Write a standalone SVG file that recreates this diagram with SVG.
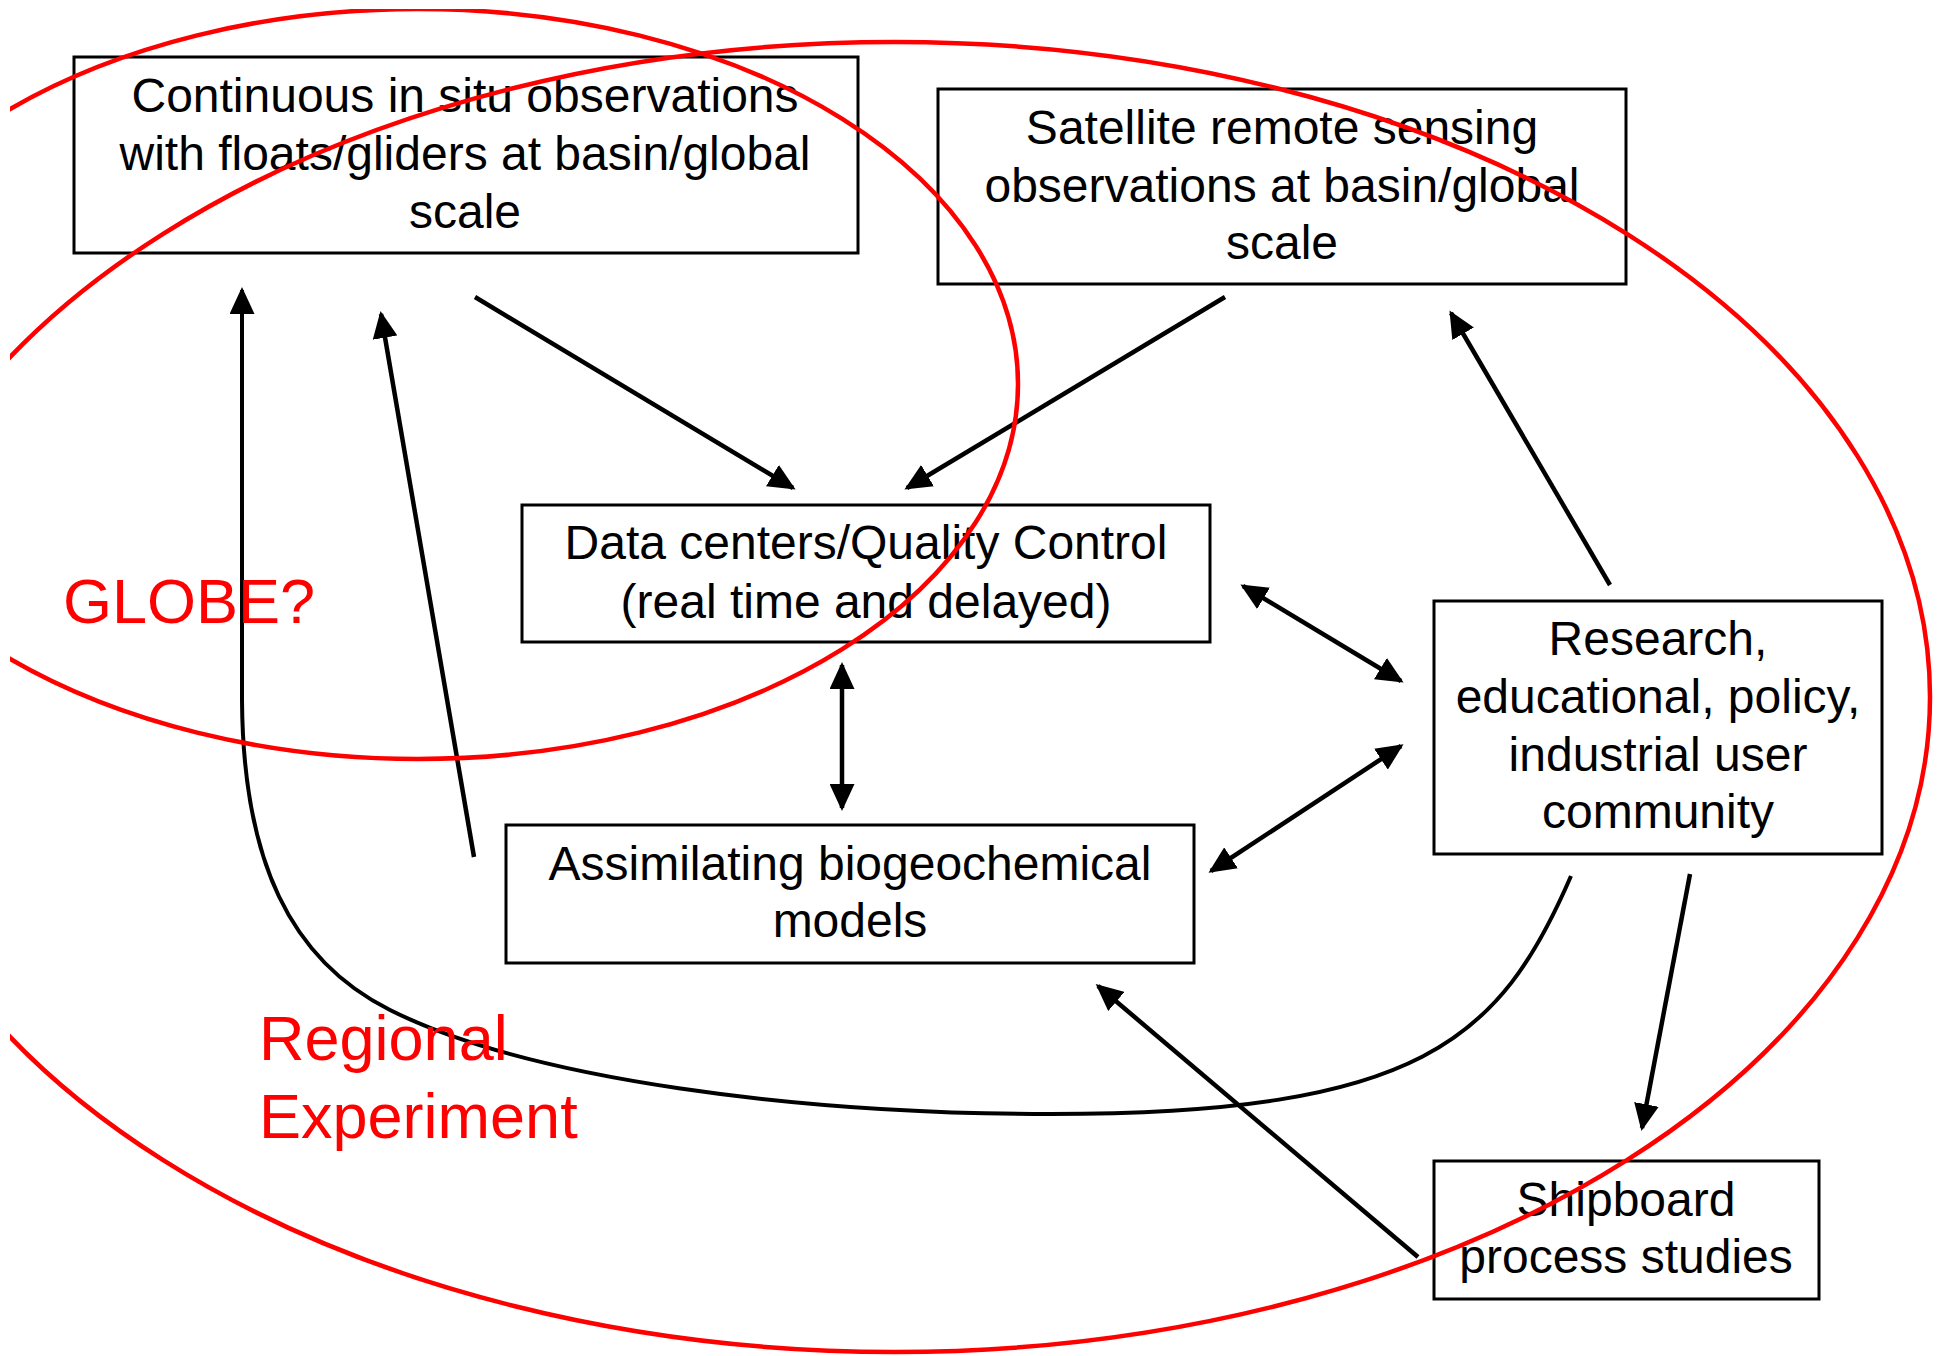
<svg xmlns="http://www.w3.org/2000/svg" width="1937" height="1356" viewBox="0 0 1937 1356">
  <style>
    .box { fill: none; stroke: #000; stroke-width: 3; }
    .lbl { font-family: "Liberation Sans", Arial, sans-serif; font-size: 48px; fill: #000; text-anchor: middle; }
    .conn { fill: none; stroke: #000; stroke-width: 4.5; }
    .ring { fill: none; stroke: #ff0000; stroke-width: 4.5; }
    .note { font-family: "Liberation Sans", Arial, sans-serif; font-size: 63px; fill: #ff0000; }
  </style>
  <defs>
    <marker id="ah" markerUnits="userSpaceOnUse" markerWidth="27" markerHeight="25" viewBox="0 0 27 25" refX="24" refY="12.5" orient="auto-start-reverse">
      <path d="M0,0 L27,12.5 L0,25 z" fill="#000"/>
    </marker>
    <clipPath id="frame">
      <rect x="10" y="9" width="1927" height="1347"/>
    </clipPath>
  </defs>
  <rect x="0" y="0" width="1937" height="1356" fill="#fff"/>

  <g id="node-insitu">
    <rect class="box" x="74" y="57" width="784" height="196"/>
    <text class="lbl" x="465" y="112">Continuous in situ observations</text>
    <text class="lbl" x="465" y="170">with floats/gliders at basin/global</text>
    <text class="lbl" x="465" y="228">scale</text>
  </g>
  <g id="node-satellite">
    <rect class="box" x="938" y="89" width="688" height="195"/>
    <text class="lbl" x="1282" y="144">Satellite remote sensing</text>
    <text class="lbl" x="1282" y="202">observations at basin/global</text>
    <text class="lbl" x="1282" y="259">scale</text>
  </g>
  <g id="node-datacenters">
    <rect class="box" x="522" y="505" width="688" height="137"/>
    <text class="lbl" x="866" y="559">Data centers/Quality Control</text>
    <text class="lbl" x="866" y="618">(real time and delayed)</text>
  </g>
  <g id="node-models">
    <rect class="box" x="506" y="825" width="688" height="138"/>
    <text class="lbl" x="850" y="880">Assimilating biogeochemical</text>
    <text class="lbl" x="850" y="937">models</text>
  </g>
  <g id="node-users">
    <rect class="box" x="1434" y="601" width="448" height="253"/>
    <text class="lbl" x="1658" y="655">Research,</text>
    <text class="lbl" x="1658" y="713">educational, policy,</text>
    <text class="lbl" x="1658" y="771">industrial user</text>
    <text class="lbl" x="1658" y="828">community</text>
  </g>
  <g id="node-shipboard">
    <rect class="box" x="1434" y="1161" width="385" height="138"/>
    <text class="lbl" x="1626" y="1216">Shipboard</text>
    <text class="lbl" x="1626" y="1273">process studies</text>
  </g>

  <g id="connectors">
    <path class="conn" d="M475,297 L793,488" marker-end="url(#ah)"/>
    <path class="conn" d="M1225,297 L907,488" marker-end="url(#ah)"/>
    <path class="conn" d="M1610,585 L1451,313" marker-end="url(#ah)"/>
    <path class="conn" d="M1243,586 L1401,681" marker-start="url(#ah)" marker-end="url(#ah)"/>
    <path class="conn" d="M842,665 L842,808" marker-start="url(#ah)" marker-end="url(#ah)"/>
    <path class="conn" d="M1211,871 L1401,746" marker-start="url(#ah)" marker-end="url(#ah)"/>
    <path class="conn" d="M1690,874 L1642,1128" marker-end="url(#ah)"/>
    <path class="conn" d="M1418,1257 L1098,986" marker-end="url(#ah)"/>
    <path class="conn" d="M474,857 L381,314" marker-end="url(#ah)"/>
    <path class="conn" style="stroke-width:4" d="M1571,876 C1500,1040 1420,1114 1050,1114 C800,1114 530,1080 390,1010 C290,960 243,860 242,700 L242,290" marker-end="url(#ah)"/>
  </g>

  <g id="annotations">
    <g clip-path="url(#frame)">
      <ellipse class="ring" cx="418" cy="384" rx="600" ry="375"/>
      <ellipse class="ring" cx="895" cy="697" rx="1035" ry="655"/>
    </g>
    <text class="note" x="63" y="623">GLOBE?</text>
    <text class="note" x="259" y="1060">Regional</text>
    <text class="note" x="259" y="1138">Experiment</text>
  </g>
</svg>
